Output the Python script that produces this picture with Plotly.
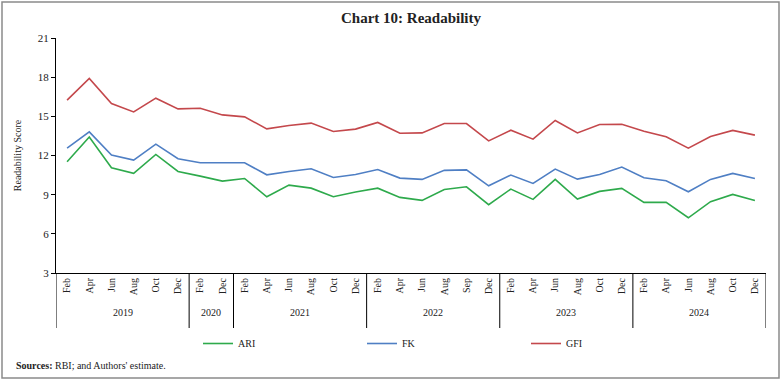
import plotly.graph_objects as go

years = ["2019"]*6 + ["2020"]*2 + ["2021"]*6 + ["2022"]*6 + ["2023"]*6 + ["2024"]*6
months = ["Feb", "Apr", "Jun", "Aug", "Oct", "Dec",
          "Feb", "Dec",
          "Feb", "Apr", "Jun", "Aug", "Oct", "Dec",
          "Feb", "Apr", "Jun", "Aug", "Sep", "Dec",
          "Feb", "Apr", "Jun", "Aug", "Oct", "Dec",
          "Feb", "Apr", "Jun", "Aug", "Oct", "Dec"]

ari = [11.52, 13.41, 11.06, 10.63, 12.08, 10.78,
       10.42, 10.04,
       10.24, 8.84, 9.73, 9.50, 8.84, 9.20,
       9.50, 8.79, 8.56, 9.40, 9.60, 8.23,
       9.43, 8.64, 10.17, 8.66, 9.25, 9.48,
       8.41, 8.41, 7.23, 8.46, 9.02, 8.56]
fk = [12.56, 13.81, 12.03, 11.65, 12.87, 11.75,
      11.44, 11.44,
      11.44, 10.52, 10.78, 10.98, 10.32, 10.55,
      10.93, 10.27, 10.17, 10.86, 10.90, 9.68,
      10.50, 9.86, 10.96, 10.19, 10.55, 11.12,
      10.29, 10.06, 9.22, 10.17, 10.63, 10.24]
gfi = [16.24, 17.90, 15.98, 15.34, 16.39, 15.57,
       15.62, 15.11,
       14.96, 14.04, 14.30, 14.48, 13.84, 14.02,
       14.53, 13.71, 13.73, 14.45, 14.45, 13.12,
       13.94, 13.25, 14.68, 13.73, 14.38, 14.39,
       13.86, 13.43, 12.56, 13.46, 13.92, 13.56]

series = [("ARI", ari, "#2eaa4c"), ("FK", fk, "#4f7fc4"), ("GFI", gfi, "#c4484c")]
FONT = "Liberation Serif"
TXT = "#222"

keys = [f"{m} {y}" for y, m in zip(years, months)]
n = len(keys)

fig = go.Figure()
for name, vals, col in series:
    fig.add_trace(go.Scatter(x=keys, y=vals, mode="lines", name=name,
                             line=dict(color=col, width=1.6)))

W, H = 782, 381
L, R, T, B = 56, 16, 38, 108
pw, ph = W - L - R, H - T - B
bottom_px = T + ph  # pixel row of the x axis

def py(p):  # pixel row -> paper y
    return (bottom_px - p) / ph

# year groups: boundaries and centres from the years list
groups = []
start = 0
for i in range(1, n + 1):
    if i == n or years[i] != years[start]:
        groups.append((years[start], start, i - 1))
        start = i

for yr, a, b in groups:
    fig.add_annotation(x=(a + b) / 2, xref="x", y=py(312), yref="paper",
                       text=yr, showarrow=False, xanchor="center", yanchor="middle",
                       font=dict(family=FONT, size=10, color=TXT))
bounds = [groups[0][1] - 0.5] + [b + 0.5 for _, _, b in groups]
for bx in bounds:
    fig.add_shape(type="line", xref="x", yref="paper", x0=bx, x1=bx,
                  y0=0, y1=py(328), line=dict(color="black", width=1))

fig.update_layout(
    width=W, height=H,
    margin=dict(l=L, r=R, t=T, b=B, autoexpand=False),
    paper_bgcolor="white", plot_bgcolor="white",
    font=dict(family=FONT, size=11, color=TXT),
    title=dict(text="<b>Chart 10: Readability</b>", x=0.5, xanchor="center",
               xref="paper", y=1 - 18/H, yanchor="middle",
               font=dict(family=FONT, size=15, color=TXT)),
    showlegend=True,
    legend=dict(orientation="h", xref="container", yref="container",
                x=198/W, y=1 - 329/H, xanchor="left", yanchor="top",
                entrywidth=119, entrywidthmode="pixels",
                font=dict(family=FONT, size=10, color=TXT),
                itemwidth=30, tracegroupgap=0),
    xaxis=dict(type="category", range=[-0.5, n - 0.5], showline=True,
               linecolor="black", linewidth=1, ticks="", tickangle=-90,
               tickmode="array", tickvals=keys, ticktext=months,
               showgrid=False, zeroline=False, automargin=False,
               tickfont=dict(family=FONT, size=10, color=TXT)),
    yaxis=dict(range=[3, 21], dtick=3, tick0=3, showline=True, linecolor="black",
               linewidth=1, ticks="outside", ticklen=4, tickcolor="black",
               showgrid=False, zeroline=False, automargin=False,
               tickfont=dict(family=FONT, size=11, color=TXT),
               title=dict(text="Readability Score",
                          font=dict(family=FONT, size=10, color=TXT), standoff=14)),
)

# outer frame
fig.add_shape(type="rect", xref="paper", yref="paper",
              x0=(2 - L)/pw, x1=(779 - L)/pw, y0=py(378), y1=py(2),
              line=dict(color="#8a8a8a", width=1.5), fillcolor="rgba(0,0,0,0)", layer="below")

fig.add_annotation(xref="paper", yref="paper", x=(14 - L)/pw, y=py(365),
                   xanchor="left", yanchor="middle", showarrow=False,
                   text="<b>Sources:</b> RBI; and Authors' estimate.",
                   font=dict(family=FONT, size=10, color=TXT))

fig.write_html("out.html", config={"displayModeBar": False},
               post_script="document.body.style.margin='0';document.body.style.padding='0';")
